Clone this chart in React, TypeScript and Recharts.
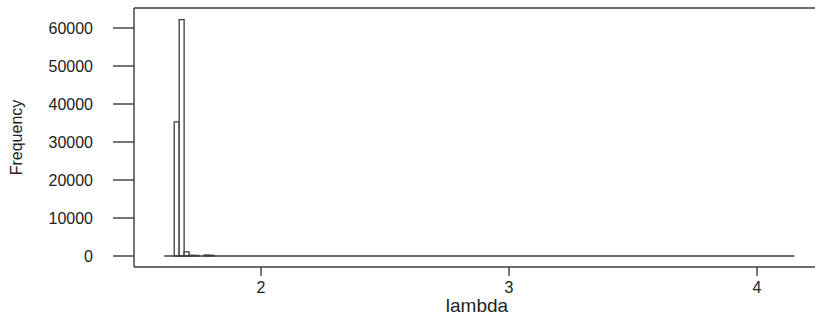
import { ComposedChart, ReferenceArea, ReferenceLine, XAxis, YAxis } from "recharts";

// histogram of lambda, bin width 0.02
const binLo = [1.65, 1.67, 1.69, 1.71, 1.73, 1.77, 1.79];
const binHi = [1.67, 1.69, 1.71, 1.73, 1.75, 1.79, 1.81];
const counts = [35300, 62200, 1100, 200, 150, 250, 200];
const histRange = [1.61, 4.15];
const xTicks = [2, 3, 4];
const yTicks = [0, 10000, 20000, 30000, 40000, 50000, 60000];

const data = binLo.map((lo, i) => ({ lo, hi: binHi[i], count: counts[i] }));

const ink = "#3c3c3c";
const font = "'Liberation Sans', Arial, sans-serif";

export default function App() {
  return (
    <div style={{ position: "absolute", left: 0, top: 0, width: 815, height: 320, overflow: "hidden", background: "#fff" }}>
      <ComposedChart width={830} height={320} data={data} margin={{ top: 8, right: 10, bottom: 0, left: 0 }}>
        <XAxis
          dataKey="lo"
          type="number"
          domain={[1.4879, 4.254]}
          ticks={xTicks}
          allowDataOverflow
          height={53}
          stroke={ink}
          strokeWidth={1.4}
          tickSize={9}
          tickMargin={6}
          tick={{ fontSize: 16, fill: "#222", fontFamily: font }}
          label={{ value: "lambda", position: "insideBottom", offset: 8, fontSize: 19, fill: "#222", fontFamily: font }}
        />
        <YAxis
          type="number"
          domain={[-2895, 65263]}
          ticks={yTicks}
          allowDataOverflow
          width={134}
          stroke={ink}
          strokeWidth={1.4}
          tickSize={21}
          tickMargin={20}
          tick={{ fontSize: 16, fill: "#222", fontFamily: font }}
          label={{ value: "Frequency", angle: -90, position: "insideLeft", offset: 16, textAnchor: "middle", fontSize: 16, fill: "#222", fontFamily: font }}
        />
        <ReferenceLine y={65263} stroke={ink} strokeWidth={1.4} ifOverflow="extendDomain" />
        <ReferenceLine segment={[{ x: histRange[0], y: 0 }, { x: histRange[1], y: 0 }]} stroke={ink} strokeWidth={1.4} />
        {data.map((d) => (
          <ReferenceArea key={d.lo} x1={d.lo} x2={d.hi} y1={0} y2={d.count} fill="#fff" fillOpacity={1} stroke={ink} strokeWidth={1.3} />
        ))}
      </ComposedChart>
    </div>
  );
}
